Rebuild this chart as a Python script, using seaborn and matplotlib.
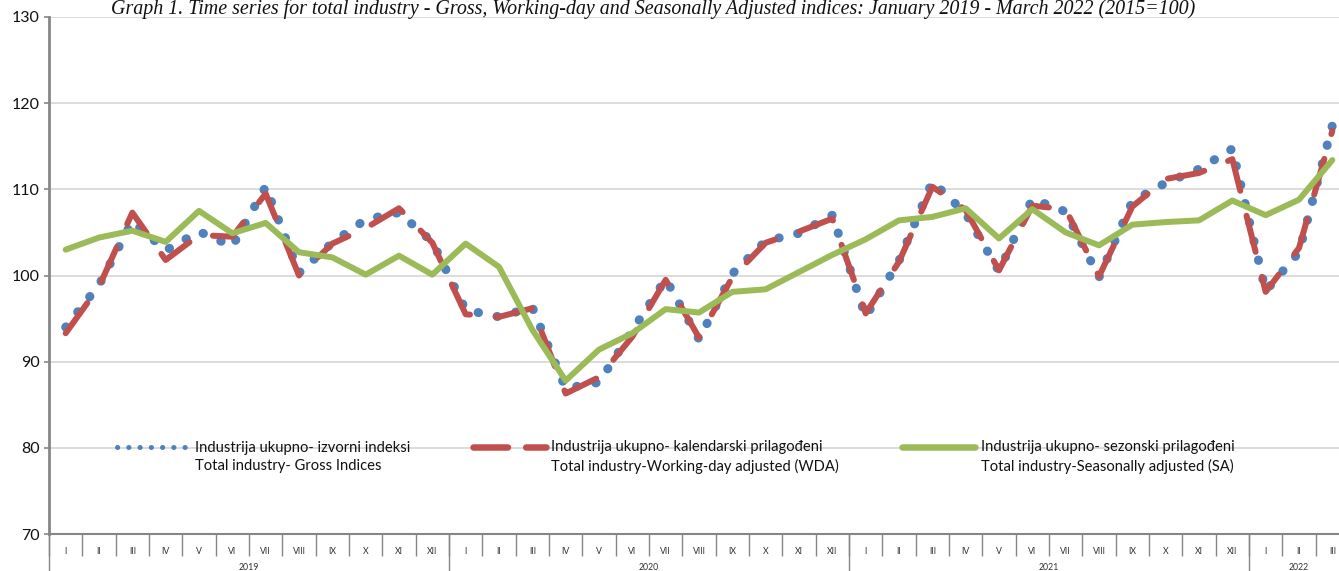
import numpy as np
import pandas as pd
import matplotlib
matplotlib.use("Agg")
import matplotlib.pyplot as plt
import matplotlib.transforms as mtransforms
from matplotlib.lines import Line2D
from matplotlib.legend_handler import HandlerLine2D
import seaborn as sns

# ---------------- data ----------------
month_labels = ["I", "II", "III", "IV", "V", "VI", "VII", "VIII", "IX", "X", "XI", "XII"] * 3 + ["I", "II", "III"]
years = ["2019", "2020", "2021", "2022"]
year_months = [12, 12, 12, 3]

gross = [94.0, 98.9, 106.3, 102.9, 105.1, 103.4, 110.3, 100.3, 103.8, 106.5, 107.3, 103.9,
         96.0, 95.2, 96.3, 86.9, 87.6, 93.6, 99.6, 92.6, 100.2, 104.0, 104.9, 107.0,
         95.2, 101.7, 110.9, 107.2, 100.5, 108.9, 107.4, 99.8, 108.6, 110.75, 112.35, 114.7,
         98.2, 102.7, 117.4]
wda = [93.3, 98.7, 107.3, 101.8, 104.7, 104.5, 109.5, 100.0, 103.7, 105.5, 107.8, 103.8,
       95.5, 95.2, 96.2, 86.3, 88.2, 92.9, 99.5, 92.8, 99.8, 103.8, 105.1, 106.6,
       95.6, 101.6, 110.3, 107.6, 100.6, 108.1, 107.7, 99.9, 108.0, 111.2, 111.9, 113.5,
       98.1, 103.2, 116.8]
sa = [103.0, 104.4, 105.2, 103.9, 107.5, 104.9, 106.1, 102.7, 102.1, 100.1, 102.3, 100.1,
      103.7, 101.0, 93.7, 87.8, 91.4, 93.3, 96.1, 95.7, 98.1, 98.4, 100.4, 102.4,
      104.2, 106.4, 106.8, 107.8, 104.3, 107.7, 105.0, 103.5, 105.9, 106.2, 106.4, 108.7,
      107.0, 108.8, 113.4]

labels = ["Industrija ukupno- izvorni indeksi\nTotal industry- Gross Indices",
          "Industrija ukupno- kalendarski prilagođeni\nTotal industry-Working-day adjusted (WDA)",
          "Industrija ukupno- sezonski prilagođeni\nTotal industry-Seasonally adjusted (SA)"]
title = ("Graph 1. Time series for total industry - Gross, Working-day and Seasonally "
         "Adjusted indices: January 2019 - March 2022 (2015=100)")

BLUE, RED, GREEN = "#4F81BD", "#C0504D", "#9BBB59"

# ---------------- style ----------------
sns.set_theme(style="white")
plt.rcParams['font.family'] = ['Lato', 'DejaVu Sans']

W, H = 1339, 571
fig = plt.figure(figsize=(W / 100, H / 100), dpi=100)
ax = fig.add_axes([49 / W, 37 / H, 1300 / W, 517 / H])

df = pd.DataFrame({"idx": np.arange(len(gross)), "gross": gross, "wda": wda, "sa": sa})

px = 0.72  # points per pixel
sns.lineplot(data=df, x="idx", y="gross", ax=ax, color=BLUE, lw=9 * px,
             linestyle=(0, (0.05, 2.1)), dash_capstyle="round", zorder=3)
sns.lineplot(data=df, x="idx", y="wda", ax=ax, color=RED, lw=6 * px,
             linestyle=(0, (6.2, 4.3)), dash_capstyle="round", dash_joinstyle="round", zorder=4)
sns.lineplot(data=df, x="idx", y="sa", ax=ax, color=GREEN, lw=6 * px,
             solid_joinstyle="round", zorder=5)

ax.set_xlim(-0.5, len(gross) - 0.5)
ax.set_ylim(70, 130)
ax.set_xlabel("")
ax.set_ylabel("")

# y axis
ax.set_yticks(range(70, 131, 10))
ax.tick_params(axis="y", which="major", left=True, length=5 * px, width=1.2, color="#868686",
               labelsize=11.5, labelcolor="#111111", pad=3)
ax.yaxis.grid(True, color="#D9D9D9", lw=1.3)
ax.set_axisbelow(True)

for s in ["top", "right"]:
    ax.spines[s].set_visible(False)
ax.spines["left"].set_color("#868686")
ax.spines["left"].set_linewidth(2.0)
ax.spines["bottom"].set_color("#868686")
ax.spines["bottom"].set_linewidth(1.5)

# x axis: months
ax.set_xticks(np.arange(len(month_labels)))
ax.set_xticklabels(month_labels)
ax.set_xticks(np.arange(-0.5, len(month_labels), 1.0), minor=True)
ax.tick_params(axis="x", which="major", bottom=True, length=0, labelsize=6.3,
               labelcolor="#333333", pad=9)
ax.tick_params(axis="x", which="minor", bottom=True, length=22 * px, width=1.0, color="#868686")

# year row
trans = mtransforms.blended_transform_factory(ax.transData, ax.transAxes)
start = -0.5
for yr, n in zip(years, year_months):
    ax.plot([start, start], [0, -40 / 517], transform=trans, color="#868686", lw=1.0,
            clip_on=False)
    ax.text(start + n / 2, -33 / 517, yr, transform=trans, ha="center", va="center",
            fontsize=6.3, color="#333333", clip_on=False)
    start += n


# legend with handle aligned to first text line
class TopLineHandler(HandlerLine2D):
    def __init__(self, shift=0.0, **kw):
        super().__init__(**kw)
        self.shift = shift

    def create_artists(self, legend, orig_handle, xdescent, ydescent, width, height,
                       fontsize, trans):
        arts = super().create_artists(legend, orig_handle, xdescent, ydescent, width, height,
                                      fontsize, trans)
        t = mtransforms.Affine2D().translate(0, self.shift * fontsize) + trans
        for a in arts:
            a.set_transform(t)
        return arts


fs = 10.6
h_gross = Line2D([], [], color=BLUE, lw=5 * px, linestyle=(0, (0.05, 2.2)), dash_capstyle="round")
h_wda = Line2D([], [], color=RED, lw=6.5 * px, linestyle=(0, (5.3, 2.8)), dash_capstyle="round")
h_sa = Line2D([], [], color=GREEN, lw=6.5 * px, solid_capstyle="round")
hm = {h: TopLineHandler(shift=0.7) for h in (h_gross, h_wda, h_sa)}
leg = ax.legend([h_gross, h_wda, h_sa], labels, handler_map=hm, ncol=3, frameon=False,
                loc="upper left", bbox_to_anchor=((116 - 48.3) / 1300, (534 - 440) / 517),
                borderaxespad=0, borderpad=0, fontsize=fs, handlelength=4.9,
                handletextpad=0.4, columnspacing=4.3)
for t in leg.get_texts():
    t.set_linespacing(1.42)
    t.set_color("#111111")

fig.text(653 / W, 1 - 9 / H, title, ha="center", va="center", fontsize=14.45,
         family=["Liberation Serif", "DejaVu Serif"], style="italic", color="#111111")

fig.savefig("out.png", dpi=100)
